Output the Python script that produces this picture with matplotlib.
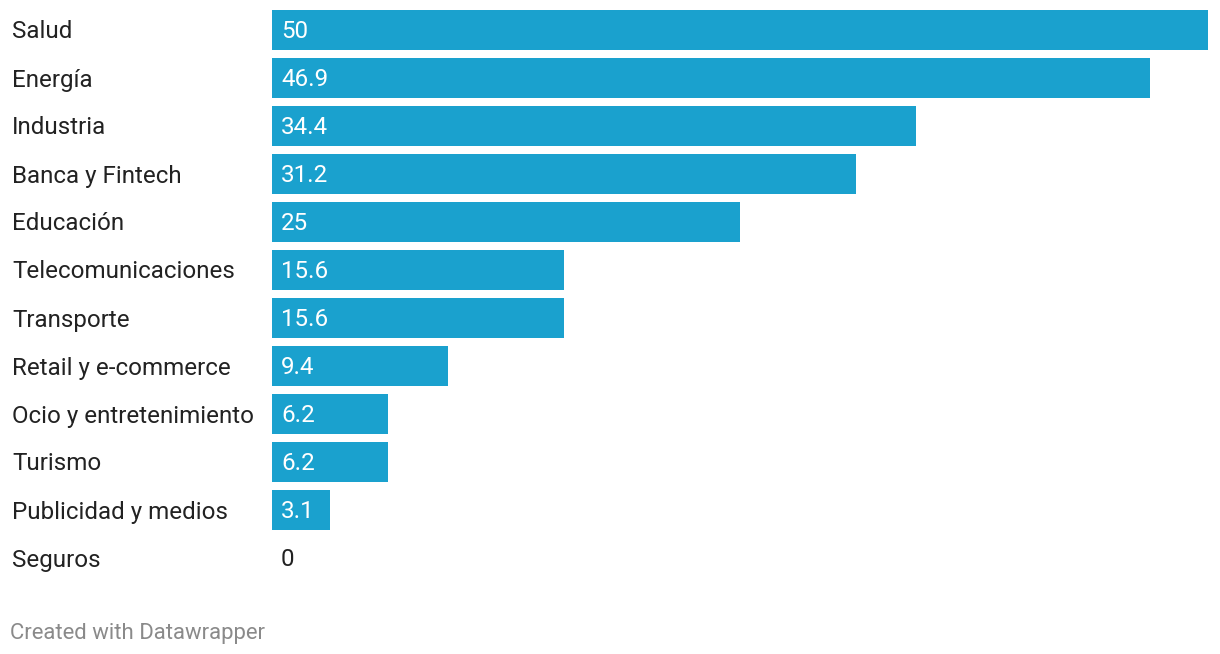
import matplotlib.pyplot as plt

categories = [
    "Salud", "Energía", "Industria", "Banca y Fintech", "Educación",
    "Telecomunicaciones", "Transporte", "Retail y e-commerce",
    "Ocio y entretenimiento", "Turismo", "Publicidad y medios", "Seguros",
]
values = [50, 46.9, 34.4, 31.2, 25, 15.6, 15.6, 9.4, 6.2, 6.2, 3.1, 0]
value_labels = ["50", "46.9", "34.4", "31.2", "25", "15.6", "15.6", "9.4", "6.2", "6.2", "3.1", "0"]

BAR_COLOR = "#1aa1ce"
TEXT_COLOR = "#222222"
FONT = ["Roboto", "DejaVu Sans"]

plt.rcParams["font.family"] = FONT

W, H = 1220, 654
fig = plt.figure(figsize=(W / 100, H / 100), dpi=100)
ax = fig.add_axes([272 / W, 1 - 582 / H, (1208 - 272) / W, (582 - 6) / H])

ypos = list(range(len(categories)))
ax.barh(ypos, values, height=40 / 48, color=BAR_COLOR, left=0)
ax.set_xlim(0, 50)
ax.set_ylim(len(categories) - 0.5, -0.5)
ax.axis("off")

for y, v, lab in zip(ypos, values, value_labels):
    color = "white" if v > 0 else TEXT_COLOR
    ax.annotate(lab, xy=(0, y), xytext=(9, -2), textcoords="offset pixels",
                va="center", ha="left", fontsize=17.4, color=color)
    ax.annotate(categories[y], xy=(0, y), xycoords=("figure pixels", "data"),
                xytext=(12, -2), textcoords="offset pixels",
                va="center", ha="left", fontsize=17.4, color=TEXT_COLOR)

fig.text(10 / W, 1 - 633 / H, "Created with Datawrapper", fontsize=15.9,
         color="#8a8a8a", va="center", ha="left")

fig.savefig("out.png", dpi=100, facecolor="white")
